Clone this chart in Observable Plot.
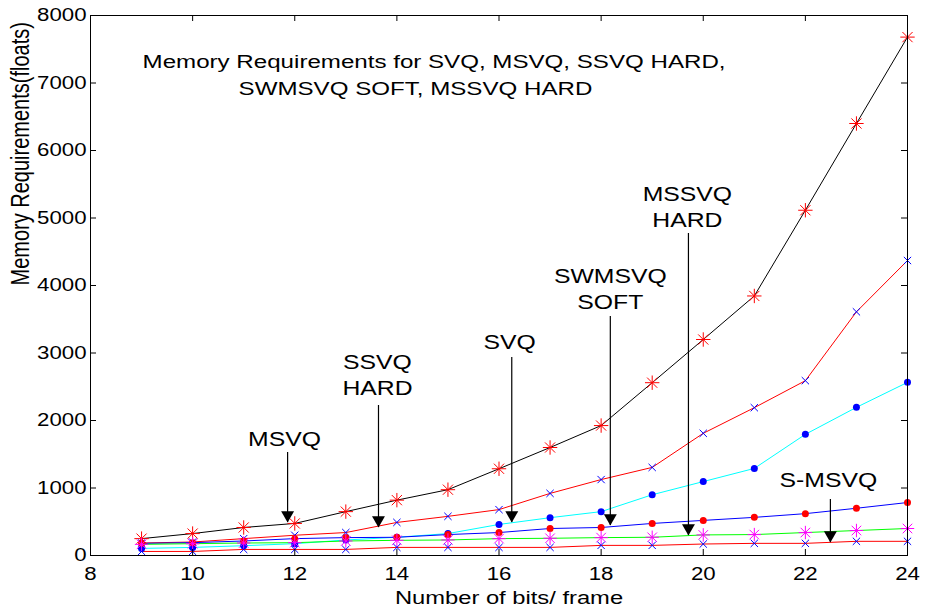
<!DOCTYPE html>
<html>
<head>
<meta charset="utf-8">
<script src="https://cdn.jsdelivr.net/npm/d3@7"></script>
<script src="https://cdn.jsdelivr.net/npm/@observablehq/plot@0.6"></script>
<style>
  html, body { margin: 0; padding: 0; background: #fff; }
</style>
</head>
<body>
<div id="chart"></div>
<script>
// ---- data ----
const bits = [9, 10, 11, 12, 13, 14, 15, 16, 17, 18, 19, 20, 21, 22, 23, 24];

// black line, red asterisks
const blackStar = [250, 325, 415, 475, 650, 820, 975, 1285, 1600, 1925, 2560, 3200, 3845, 5115, 6400, 7680];
// red line, blue crosses
const redCross = [185, 200, 250, 300, 340, 490, 580, 680, 920, 1125, 1305, 1810, 2190, 2590, 3610, 4370];
// cyan line, blue dots
const cyanDot = [105, 120, 145, 175, 230, 270, 325, 460, 560, 650, 900, 1095, 1290, 1795, 2195, 2565];
// blue line, red dots
const blueDot = [180, 190, 215, 250, 265, 270, 310, 340, 400, 415, 475, 520, 565, 620, 700, 785];
// green line, magenta asterisks
const greenStar = [165, 175, 185, 190, 215, 225, 230, 250, 255, 265, 270, 305, 310, 340, 370, 400];
// red line, blue crosses (lowest)
const redCrossLow = [60, 60, 90, 90, 90, 120, 120, 120, 120, 150, 150, 170, 180, 180, 210, 210];

const xTicks = [8, 10, 12, 14, 16, 18, 20, 22, 24];
const yTicks = [0, 1000, 2000, 3000, 4000, 5000, 6000, 7000, 8000];

const titleLines = ["Memory Requirements for SVQ, MSVQ, SSVQ HARD,", "SWMSVQ SOFT, MSSVQ HARD"];
const titleX = [9.02, 10.90];
const titleY = [7319, 6919];

const annotLabels = ["MSVQ", "SSVQ\nHARD", "SVQ", "SWMSVQ\nSOFT", "MSSVQ\nHARD", "S-MSVQ"];
const annotX = [11.80, 13.62, 16.21, 18.18, 19.69, 22.45];
const annotY = [1748, 2696, 3185, 3970, 5185, 1140];
const arrowX = [11.86, 13.64, 16.25, 18.18, 19.71, 22.49];
const arrowTop = [1526, 2222, 2933, 3541, 4770, 830];
const arrowTip = [489, 415, 489, 444, 296, 193];

const xLabel = "Number of bits/ frame";
const yLabel = "Memory Requirements(floats)";

// ---- build tables ----
const rows = vals => bits.map((b, i) => ({x: b, y: vals[i]}));
const series = [
  {vals: blackStar, line: "#000000", marker: "star", mcolor: "#ff0000", r: 4.7},
  {vals: redCross, line: "#ff0000", marker: "times", mcolor: "#0000ff", r: 3.4},
  {vals: cyanDot, line: "#00ffff", marker: "dot", mcolor: "#0000ff", r: 3.5},
  {vals: blueDot, line: "#0000ff", marker: "dot", mcolor: "#ff0000", r: 3.5},
  {vals: greenStar, line: "#00ff00", marker: "star", mcolor: "#ff00ff", r: 4.4},
  {vals: redCrossLow, line: "#ff0000", marker: "times", mcolor: "#0000ff", r: 3.4}
];
const titleRows = titleLines.map((t, i) => ({x: titleX[i], y: titleY[i], text: t}));
const annots = annotLabels.map((t, i) => ({x: annotX[i], y: annotY[i], text: t}));
const arrows = arrowX.map((x, i) => ({x, top: arrowTop[i], tip: arrowTip[i]}));

const marks = [];
for (const s of series) {
  marks.push(Plot.line(rows(s.vals), {x: "x", y: "y", stroke: s.line, strokeWidth: 1}));
}
for (const s of series) {
  const d = rows(s.vals);
  if (s.marker === "star") {
    marks.push(Plot.dot(d, {x: "x", y: "y", symbol: "plus", r: s.r, stroke: s.mcolor, fill: "none", strokeWidth: 1}));
    marks.push(Plot.dot(d, {x: "x", y: "y", symbol: "times", r: s.r, stroke: s.mcolor, fill: "none", strokeWidth: 1}));
  } else if (s.marker === "times") {
    marks.push(Plot.dot(d, {x: "x", y: "y", symbol: "times", r: s.r, stroke: s.mcolor, fill: "none", strokeWidth: 1}));
  } else {
    marks.push(Plot.dot(d, {x: "x", y: "y", symbol: "circle", r: s.r, fill: s.mcolor, stroke: "none"}));
  }
}
// annotation arrows
marks.push(Plot.ruleX(arrows, {x: "x", y1: "top", y2: "tip", stroke: "#000", strokeWidth: 1.2}));
marks.push(Plot.dot(arrows, {x: "x", y: "tip", symbol: "triangle", rotate: 180, r: 4.8, fill: "#000", stroke: "none", dy: -7.5}));
marks.push(Plot.text(annots, {x: "x", y: "y", text: "text", fontSize: 19.5, lineHeight: 1.33, textAnchor: "middle", lineAnchor: "middle", fill: "#000"}));
marks.push(Plot.text(titleRows, {x: "x", y: "y", text: "text", fontSize: 19, textAnchor: "start", lineAnchor: "middle", fill: "#000"}));

// frame and inward ticks
marks.push(Plot.frame({stroke: "#000", strokeWidth: 1}));
marks.push(Plot.ruleX(xTicks, {x: d => d, y1: 0, y2: 0, insetBottom: 6, stroke: "#000"}));
marks.push(Plot.ruleX(xTicks, {x: d => d, y1: 8000, y2: 8000, insetTop: 6, stroke: "#000"}));
marks.push(Plot.ruleY(yTicks, {y: d => d, x1: 8, x2: 8, insetLeft: 6, stroke: "#000"}));
marks.push(Plot.ruleY(yTicks, {y: d => d, x1: 24, x2: 24, insetRight: 6, stroke: "#000"}));
// tick labels
marks.push(Plot.text(xTicks, {x: d => d, text: d => String(d), frameAnchor: "bottom", dy: 19, lineAnchor: "middle", fontSize: 17.5, fill: "#000"}));
marks.push(Plot.text(yTicks, {y: d => d, text: d => String(d), frameAnchor: "left", dx: -4, textAnchor: "end", lineAnchor: "middle", fontSize: 17.5, fill: "#000"}));
// axis labels
marks.push(Plot.text([xLabel], {text: d => d, frameAnchor: "bottom", dx: 10, dy: 43, lineAnchor: "middle", fontSize: 18.7, fill: "#000"}));
marks.push(Plot.text([yLabel], {text: d => d, frameAnchor: "left", dx: -70, rotate: -90, lineAnchor: "middle", fontSize: 20, fill: "#000"}));

const chart = Plot.plot({
  width: 928,
  height: 611,
  marginLeft: 90,
  marginRight: 21,
  marginTop: 15,
  marginBottom: 56,
  x: {domain: [8, 24], axis: null},
  y: {domain: [0, 8000], axis: null},
  style: {fontFamily: "'Liberation Sans', Arial, Helvetica, sans-serif", background: "#fff", color: "#000"},
  marks
});

// the reference's text is horizontally stretched: widen glyphs around each anchor
const S = 1.27;
chart.querySelectorAll("text").forEach(t => {
  const tr = t.getAttribute("transform") || "";
  const rotated = tr.includes("rotate");
  let x = parseFloat(t.getAttribute("x"));
  if (!isFinite(x) || /em/.test(t.getAttribute("x") || "")) x = 0;
  const extra = rotated
    ? `scale(1,${S})`
    : `translate(${x},0) scale(${S},1) translate(${-x},0)`;
  t.setAttribute("transform", `${tr} ${extra}`.trim());
});

document.getElementById("chart").appendChild(chart);
</script>
</body>
</html>
